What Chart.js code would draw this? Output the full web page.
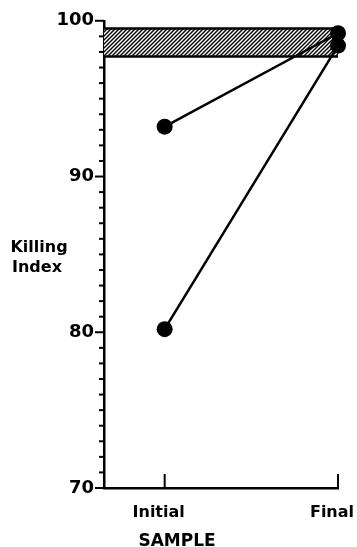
<!DOCTYPE html>
<html>
<head>
<meta charset="utf-8">
<script src="https://cdn.jsdelivr.net/npm/chart.js@4"></script>
<style>
  body { margin: 0; background: #fff; }
  canvas { display: block; }
</style>
</head>
<body>
<canvas id="chart" width="357" height="547"></canvas>
<script>
const categories = ['Initial', 'Final'];
const categoryX = [1, 2];
const seriesA = [93.2, 99.2];
const seriesB = [80.2, 98.4];
const bandTop = 99.5;
const bandBottom = 97.7;
const yTicks = [70, 80, 90, 100];
const yMin = 70, yMax = 100;
const xMin = 0.65, xMax = 2;
const yTitle = ['Killing', 'Index'];
const xTitle = 'SAMPLE';

const FONT = '"DejaVu Sans", sans-serif';
const ctx = document.getElementById('chart').getContext('2d');

// diagonal hatch for the normal range band
function hatch() {
    const c = document.createElement('canvas');
    c.width = 4; c.height = 4;
    const g = c.getContext('2d');
    g.fillStyle = '#fff';
    g.fillRect(0, 0, 4, 4);
    g.strokeStyle = '#000';
    g.lineWidth = 1.4;
    g.beginPath();
    g.moveTo(0, 4); g.lineTo(4, 0);
    g.moveTo(-1, 1); g.lineTo(1, -1);
    g.moveTo(3, 5); g.lineTo(5, 3);
    g.stroke();
    return ctx.createPattern(c, 'repeat');
}

const toPoints = vals => vals.map((v, i) => ({ x: categoryX[i], y: v }));

const decor = {
    id: 'decor',
    afterDraw(chart) {
        const c = chart.ctx, a = chart.chartArea;
        const x = chart.scales.x, y = chart.scales.y;
        c.save();
        c.strokeStyle = '#000';
        c.lineWidth = 2;
        for (let v = yMin; v <= yMax; v++) {
            const py = y.getPixelForValue(v);
            const len = v % 10 === 0 ? 9 : 5;
            c.beginPath();
            c.moveTo(a.left - len, py);
            c.lineTo(a.left, py);
            c.stroke();
        }
        categoryX.forEach(v => {
            const px = x.getPixelForValue(v);
            c.beginPath();
            c.moveTo(px, a.bottom);
            c.lineTo(px, a.bottom - 14);
            c.stroke();
        });
        c.fillStyle = '#000';
        c.textAlign = 'center';
        c.font = 'bold 16px ' + FONT;
        c.fillText(yTitle[0], 39, 252);
        c.fillText(yTitle[1], 37, 272);
        c.font = 'bold 17px ' + FONT;
        c.fillText(xTitle, 177, 546);
        c.restore();
    }
};

new Chart(ctx, {
    type: 'line',
    data: {
        datasets: [
            {
                data: [{ x: xMin, y: bandTop }, { x: xMax, y: bandTop }],
                borderColor: '#000',
                borderWidth: 2.5,
                pointRadius: 0,
                fill: false,
                order: 2
            },
            {
                data: [{ x: xMin, y: bandBottom }, { x: xMax, y: bandBottom }],
                borderColor: '#000',
                borderWidth: 2.5,
                pointRadius: 0,
                backgroundColor: hatch(),
                fill: '-1',
                order: 2
            },
            {
                data: toPoints(seriesA),
                borderColor: '#000',
                borderWidth: 2.5,
                pointRadius: 8,
                pointBackgroundColor: '#000',
                pointBorderWidth: 0,
                clip: false,
                order: 1
            },
            {
                data: toPoints(seriesB),
                borderColor: '#000',
                borderWidth: 2.5,
                pointRadius: 8,
                pointBackgroundColor: '#000',
                pointBorderWidth: 0,
                clip: false,
                order: 1
            }
        ]
    },
    options: {
        responsive: false,
        animation: false,
        devicePixelRatio: 1,
        layout: { padding: { top: 20, right: 19, left: 0, bottom: 0 } },
        plugins: { legend: { display: false }, tooltip: { enabled: false } },
        scales: {
            x: {
                type: 'linear',
                min: xMin,
                max: xMax,
                afterBuildTicks(scale) {
                    scale.ticks = categoryX.map(v => ({ value: v }));
                },
                afterFit(scale) {
                    scale.height = 59;
                    scale.paddingLeft = 0;
                    scale.paddingRight = 0;
                },
                grid: { display: false, drawTicks: false },
                border: { display: true, color: '#000', width: 2.5 },
                ticks: {
                    padding: 15,
                    labelOffset: -6,
                    color: '#000',
                    font: { family: FONT, size: 16, weight: 'bold' },
                    callback: (v, i) => categories[i]
                }
            },
            y: {
                min: yMin,
                max: yMax,
                afterBuildTicks(scale) {
                    scale.ticks = yTicks.map(v => ({ value: v }));
                },
                afterFit(scale) {
                    scale.width = 104;
                },
                grid: { display: false, drawTicks: false },
                border: { display: true, color: '#000', width: 2.5 },
                ticks: {
                    padding: 10,
                    color: '#000',
                    font: { family: FONT, size: 18, weight: 'bold' }
                }
            }
        }
    },
    plugins: [decor]
});
</script>
</body>
</html>
